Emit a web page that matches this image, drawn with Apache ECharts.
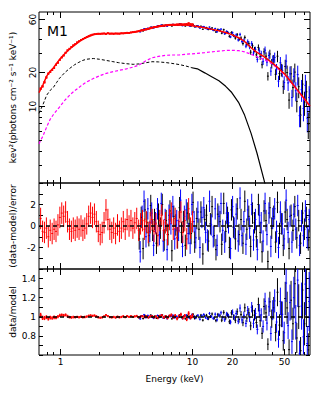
<!DOCTYPE html>
<html><head><meta charset="utf-8">
<script src="https://cdn.jsdelivr.net/npm/echarts@6/dist/echarts.min.js"></script>
<style>html,body{margin:0;padding:0;background:#fff}#c{width:319px;height:399px}</style>
</head><body><div id="c"></div>
<script>
const FONT = 'DejaVu Sans';
const xMin = 0.7, xMax = 78;
const yTopMin = 2.05, yTopMax = 69.3;

// tick values / labels
const xMajor = [1, 10, 20, 50];
const xMajorLabels = ['1', '10', '20', '50'];
const xMinor = [0.8, 0.9, 2, 3, 4, 5, 6, 7, 8, 9, 30, 40, 60, 70];
const yTopMajor = [10, 20, 60];
const yTopMajorLabels = ['10', '20', '60'];
const yTopMinor = [3, 4, 5, 6, 7, 8, 9, 30, 40, 50];
const resLabels = ['-2', '0', '2'];
const ratLabels = ['0.8', '1', '1.2', '1.4'];

// model curves
const mE = [0.7,0.75,0.8,0.85,0.9,0.95,1.0,1.1,1.2,1.3,1.4,1.5,1.6,1.8,2.0,2.2,2.5,2.8,3.2,3.6,4.0,4.5,5.0,5.6,6.3,7.0,8.0,9.0,10,11,12.5,14,16,18,20,22.5,25,28,31,35,40,45,50,56,63,70,78];
const mTot = [13.2,15.5,18.5,20.5,22.0,24.0,26.0,29.5,32.5,35.0,37.5,39.5,41.0,43.5,44.3,44.5,44.5,44.6,45.0,45.6,46.8,48.5,50.3,51.6,52.6,53.0,53.3,53.0,52.3,51.5,50.0,48.7,47.2,45.5,43.5,40.8,37.8,33.2,30.2,27.6,24.6,21.8,19.4,16.5,13.8,11.8,10.0];
const mMag = [4.6,5.4,6.5,7.6,8.4,9.1,9.8,11.3,12.6,13.7,14.6,15.6,16.4,17.6,18.6,19.4,20.2,20.8,21.5,22.3,23.3,25.4,27.0,27.8,28.4,28.6,28.6,29.0,29.3,29.6,30.0,30.5,31.0,31.4,31.5,31.3,30.5,29.0,27.6,26.0,24.0,21.4,19.1,16.3,13.6,11.6,9.9];
const bdE = [0.7,0.75,0.8,0.85,0.9,0.95,1.0,1.1,1.2,1.3,1.4,1.5,1.6,1.8,2.0,2.2,2.5,2.8,3.2,3.6,4.0,4.5,5.0,5.6,6.3,7.0,8.0,9.0,10];
const bdV = [8.6,10.3,12.5,13.8,14.7,16.2,17.7,20.0,21.8,23.4,24.6,25.6,26.2,26.6,26.2,25.7,25.0,24.4,23.9,23.6,23.8,24.4,24.9,24.8,24.5,24.1,23.5,22.8,22.0];
const bsE = [10,11,12.5,14,16,18,20,22.5,25,28,31,35,38,42];
const bsV = [22.0,21.5,19.8,18.4,16.8,15.0,13.2,10.8,8.3,5.7,3.8,2.2,1.5,0.9];

// red instrument data
const rE = [0.72,0.745,0.77,0.796,0.823,0.851,0.88,0.91,0.941,0.973,1.006,1.04,1.075,1.112,1.15,1.189,1.229,1.271,1.314,1.359,1.405,1.453,1.502,1.553,1.606,1.661,1.717,1.776,1.836,1.898,1.963,2.03,2.099,2.17,2.244,2.32,2.399,2.481,2.565,2.652,2.742,2.836,2.932,3.032,3.135,3.241,3.352,3.465,3.583,3.705,3.831,3.961,4.096,4.235,4.379,4.528,4.682,4.841,5.006,5.176,5.352,5.534,5.722,5.917,6.118,6.326,6.541,6.763,6.993,7.231,7.477,7.731,7.994,8.266,8.547,8.838,9.138,9.449,9.77,10.1];
const rF = [14.3,15.0,16.3,18.0,19.5,20.2,21.0,21.9,23.4,24.4,25.9,27.2,28.3,30.0,31.5,32.5,33.7,34.9,35.8,37.1,38.0,38.9,39.7,40.6,41.4,42.2,42.9,43.5,43.9,44.1,44.3,44.2,44.4,44.5,44.1,44.8,44.3,44.4,44.2,44.5,44.4,44.3,44.7,44.6,44.9,45.1,45.0,45.5,45.8,46.0,46.3,46.7,47.2,47.6,48.0,48.4,48.9,49.5,50.0,50.6,50.9,51.3,51.8,52.0,52.4,52.6,52.9,53.1,53.2,53.4,53.3,53.6,53.5,53.8,53.6,53.7,53.9,54.8,53.8,53.6];
const rErr = [.024,.023,.022,.021,.02,.02,.019,.019,.018,.017,.017,.016,.016,.015,.015,.014,.014,.014,.013,.013,.013,.013,.013,.013,.012,.012,.012,.012,.012,.012,.012,.012,.012,.012,.012,.012,.012,.012,.012,.012,.012,.012,.012,.012,.012,.012,.012,.012,.012,.012,.012,.012,.012,.012,.012,.012,.012,.012,.012,.012,.013,.013,.013,.014,.014,.014,.015,.015,.016,.016,.017,.017,.018,.018,.019,.02,.021,.022,.023,.024];
const rRes = [0.7,-0.5,-0.6,-0.2,-1.0,-0.4,-0.7,-0.3,-0.5,0.1,0.8,1.2,0.9,1.3,0.4,-0.3,-0.5,-0.2,-0.4,-0.1,-0.3,0.0,-0.4,-0.2,0.2,0.9,1.2,0.8,1.1,0.4,-0.5,-0.8,-0.6,0.3,1.5,0.6,-0.3,-0.6,-0.2,-0.7,0.1,-0.5,-0.2,0.4,-0.3,0.6,0.0,0.5,-0.2,0.3,0.7,-0.4,0.2,0.5,-0.3,0.4,-0.6,0.3,0.6,-0.5,0.2,-0.9,0.5,1.0,-0.4,0.3,-0.8,0.6,1.2,-0.3,0.7,-1.1,0.4,1.3,-0.6,0.5,-1.2,1.6,-0.2,0.4];
const rRat = [1.017,.989,.987,.996,.980,.992,.987,.994,.991,1.002,1.014,1.019,1.014,1.020,1.006,.996,.993,.997,.995,.999,.996,1.000,.995,.997,1.002,1.011,1.014,1.010,1.013,1.005,.994,.990,.993,1.004,1.018,1.007,.996,.993,.998,.992,1.001,.994,.998,1.005,.996,1.007,1.000,1.006,.998,1.004,1.008,.995,1.002,1.006,.996,1.005,.993,1.004,1.007,.994,1.003,.988,1.007,1.014,.994,1.004,.988,1.009,1.019,.995,1.012,.981,1.007,1.023,.989,1.010,.975,1.035,.995,1.010];

// black instrument data
const bE = [4.00,4.14,4.28,4.42,4.57,4.73,4.89,5.05,5.22,5.40,5.59,5.78,5.97,6.18,6.39,6.60,6.83,7.06,7.30,7.55,7.80,8.07,8.34,8.63,8.92,9.22,9.54,9.86,10.2,10.5,10.9,11.3,11.7,12.1,12.5,12.9,13.3,13.8,14.2,14.7,15.2,15.7,16.3,16.8,17.4,18.0,18.6,19.2,19.9,20.6,21.3,22.0,22.7,23.5,24.3,25.1,26.0,26.9,27.8,28.7,29.7,30.7,31.8,32.8,33.9,35.1,36.3,37.5,38.8,40.1,41.5,42.9,44.3,45.9,47.4,49.0,50.7,52.4,54.2,56.1,58.0,59.9,62.0,64.1,66.2,68.5,70.8,73.2,75.7,78.0];
const bF = [46.3,47.6,46.9,48.9,48.9,48.9,50.7,50.2,51.1,50.5,52.1,51.8,53.0,51.8,52.9,52.4,53.6,51.9,53.5,53.3,52.6,54.2,52.9,53.3,51.9,53.6,52.8,52.0,53.5,51.0,52.0,51.0,51.7,48.6,50.4,50.3,48.3,49.0,49.9,47.5,45.9,48.4,47.3,44.8,48.1,45.0,45.8,42.0,45.4,42.7,40.5,43.5,39.5,40.5,36.2,41.1,35.7,36.3,30.3,34.6,32.0,28.7,33.4,27.8,23.4,30.5,27.9,18.5,29.2,24.0,25.9,19.2,27.9,19.5,21.1,14.9,22.6,19.9,11.3,19.4,14.6,20.1,11.0,14.9,8.3,15.7,10.8,13.4,6.9,11.1];
const bErr = [.009,.009,.009,.009,.009,.009,.009,.009,.009,.009,.009,.009,.009,.009,.009,.009,.009,.009,.009,.009,.010,.010,.010,.010,.011,.011,.011,.011,.012,.012,.012,.013,.013,.014,.014,.015,.015,.016,.016,.017,.018,.019,.020,.021,.022,.023,.024,.026,.027,.029,.031,.033,.035,.037,.039,.041,.044,.047,.050,.053,.056,.060,.064,.068,.072,.077,.082,.087,.092,.098,.104,.110,.117,.124,.131,.139,.147,.155,.164,.173,.182,.192,.202,.212,.222,.233,.244,.255,.266,.277];
const bRes = [-1.2,0.8,-2.1,1.5,0.3,-0.9,1.9,-0.4,0.6,-1.6,1.1,-0.2,2.0,-1.3,0.5,-0.8,1.4,-2.3,0.9,0.1,-1.1,1.7,-0.6,0.4,-1.8,1.2,0.2,-0.7,2.2,-1.5,0.7,-0.3,1.3,-2.6,0.6,1.0,-1.4,0.2,1.8,-0.9,-2.2,1.1,0.4,-1.7,2.1,-0.5,0.8,-2.0,1.5,-0.1,-1.2,1.6,-0.8,0.6,-1.6,2.3,-0.3,0.9,-1.9,1.2,0.3,-1.0,2.0,-0.6,-2.4,1.4,0.5,-3.3,1.7,-0.2,0.9,-1.5,2.2,-0.7,0.2,-1.8,1.3,0.6,-2.1,1.0,-0.4,1.8,-1.1,0.5,-1.6,1.2,-0.3,0.8,-1.3,0.4];
const bRat = [.989,1.007,.981,1.014,1.003,.992,1.017,.996,1.005,.986,1.010,.998,1.018,.988,1.005,.993,1.013,.979,1.008,1.001,.989,1.017,.994,1.004,.980,1.013,1.002,.992,1.026,.982,1.008,.996,1.017,.964,1.008,1.015,.979,1.003,1.029,.985,.960,1.021,1.008,.964,1.046,.989,1.019,.948,1.041,.997,.963,1.053,.972,1.022,.938,1.094,.987,1.042,.905,1.064,1.017,.940,1.128,.959,.827,1.108,1.041,.713,1.156,.980,1.094,.835,1.257,.913,1.026,.750,1.191,1.093,.656,1.173,.927,1.346,.778,1.106,.645,1.280,.927,1.204,.654,1.111];

// blue instrument data
const uE = [4.07,4.21,4.35,4.50,4.65,4.81,4.97,5.14,5.31,5.50,5.68,5.87,6.08,6.28,6.50,6.71,6.94,7.18,7.42,7.68,7.94,8.21,8.49,8.77,9.07,9.38,9.70,10.0,10.4,10.7,11.1,11.5,11.9,12.3,12.7,13.1,13.6,14.0,14.5,15.0,15.5,16.0,16.6,17.1,17.7,18.3,18.9,19.6,20.3,20.9,21.6,22.4,23.1,23.9,24.7,25.6,26.4,27.3,28.3,29.2,30.2,31.2,32.3,33.4,34.5,35.7,36.9,38.2,39.5,40.8,42.2,43.6,45.1,46.6,48.2,49.8,51.5,53.3,55.1,57.0,58.9,60.9,63.0,65.1,67.4,69.6,72.0,74.4,76.9];
const uF = [46.0,47.9,49.0,48.1,49.7,49.4,50.8,49.8,51.2,52.1,51.3,53.0,51.6,52.8,51.6,53.3,53.1,53.8,52.5,53.5,53.0,54.6,52.2,53.6,53.9,52.4,51.6,53.5,52.3,51.0,52.2,49.7,51.1,51.4,49.4,48.6,50.8,48.8,47.5,49.3,46.1,48.0,48.7,45.8,44.2,46.5,44.9,41.5,45.2,42.2,43.2,39.0,43.7,37.8,38.7,34.3,37.8,33.8,36.3,29.8,32.1,26.1,31.2,29.2,25.1,31.6,24.7,28.3,20.5,25.8,27.2,21.4,16.7,24.4,20.8,16.2,25.2,16.1,19.4,11.9,18.4,13.7,19.1,8.2,14.0,9.5,15.3,7.8,11.9];
const uErr = [.009,.009,.009,.009,.009,.009,.009,.009,.009,.009,.009,.009,.009,.009,.009,.009,.009,.009,.009,.009,.010,.010,.010,.010,.011,.011,.011,.011,.012,.012,.012,.013,.013,.014,.014,.015,.015,.016,.016,.017,.018,.019,.020,.021,.022,.023,.024,.026,.027,.029,.031,.033,.035,.037,.039,.041,.044,.047,.050,.053,.056,.060,.064,.068,.072,.077,.082,.087,.092,.098,.104,.110,.117,.124,.131,.139,.147,.155,.164,.173,.182,.192,.202,.212,.222,.233,.244,.255,.266];
const uRes = [-2.4,0.9,2.3,-1.0,1.6,-0.5,1.2,-1.8,0.3,1.6,-0.8,2.1,-1.4,0.6,-2.2,1.0,0.2,1.8,-1.2,0.5,-0.4,2.4,-1.9,0.9,1.5,-0.7,-1.6,2.0,0.4,-1.1,1.3,-2.0,0.8,1.7,-0.6,-1.3,2.3,0.1,-1.0,1.6,-1.8,0.9,2.1,-0.4,-1.5,1.2,0.3,-2.1,1.8,-0.2,1.1,-1.4,2.6,-0.9,0.4,-1.7,1.5,-0.2,2.0,-1.3,0.6,-2.2,1.0,0.3,-1.4,2.1,-0.8,1.2,-1.9,0.7,1.6,-0.5,-2.0,1.3,0.2,-1.2,2.4,-0.6,0.9,-1.5,1.1,-0.3,1.9,-1.8,0.5,-0.9,1.4,-1.1,0.6];
const uRat = [.978,1.008,1.021,.991,1.014,.996,1.011,.984,1.003,1.014,.993,1.019,.987,1.005,.980,1.009,1.002,1.016,.989,1.005,.996,1.024,.981,1.009,1.017,.992,.982,1.022,1.005,.987,1.016,.974,1.010,1.024,.992,.981,1.035,1.002,.984,1.027,.968,1.017,1.042,.992,.967,1.028,1.007,.945,1.049,.994,1.034,.954,1.091,.967,1.016,.930,1.066,.991,1.100,.931,1.034,.868,1.064,1.020,.899,1.162,.934,1.104,.825,1.069,1.166,.945,.766,1.161,1.026,.833,1.353,.907,1.148,.740,1.200,.942,1.384,.618,1.111,.790,1.342,.720,1.160];

const RED = '#ff0000', BLUE = '#0000ff', BLACK = '#000000', MAG = '#ff00ff';

function binCross(E, Y, LO, HI, color, width) {
  return function (params, api) {
    const i = params.dataIndex, n = E.length;
    const p = api.coord([E[i], Y[i]]);
    const xl = i > 0 ? api.coord([E[i - 1], Y[i]])[0] : null;
    const xr = i < n - 1 ? api.coord([E[i + 1], Y[i]])[0] : null;
    const hl = xl !== null ? (p[0] - xl) / 2 : (xr - p[0]) / 2;
    const hr = xr !== null ? (xr - p[0]) / 2 : (p[0] - xl) / 2;
    const yt = api.coord([E[i], HI[i]])[1];
    const yb = api.coord([E[i], LO[i]])[1];
    const st = {stroke: color, lineWidth: width};
    return {type: 'group', children: [
      {type: 'line', shape: {x1: p[0] - hl, y1: p[1], x2: p[0] + hr, y2: p[1]}, style: st},
      {type: 'line', shape: {x1: p[0], y1: yt, x2: p[0], y2: yb}, style: st}
    ]};
  };
}
function errSeries(gi, yi, E, Y, LO, HI, color, width, z) {
  return {type: 'custom', xAxisIndex: gi, yAxisIndex: yi, clip: true, silent: true, z: z,
    data: E.map((e, i) => [e, Y[i]]), renderItem: binCross(E, Y, LO, HI, color, width)};
}
const lo = (Y, R) => Y.map((y, i) => y * (1 - R[i]));
const hi = (Y, R) => Y.map((y, i) => y * (1 + R[i]));
const rlo = (Y) => Y.map(y => y - 1);
const rhi = (Y) => Y.map(y => y + 1);

const txt = (s, x, y, extra) => Object.assign({type: 'text', x: x, y: y,
  style: {text: s, fill: '#000', fontSize: 9, fontFamily: FONT, align: 'center', verticalAlign: 'middle',
          textAlign: 'center', textVerticalAlign: 'middle'}}, extra || {});

function xTicks(gi, yi, yRef, withLabels) {
  const vals = xMajor.concat(xMinor);
  return {type: 'custom', xAxisIndex: gi, yAxisIndex: yi, clip: false, silent: true, z: 10,
    data: vals.map(v => [v, yRef]),
    renderItem(params, api) {
      const i = params.dataIndex, cs = params.coordSys;
      const x = Math.round(api.coord([vals[i], yRef])[0]) + 0.5;
      const major = i < xMajor.length, L = major ? 6 : 3;
      const y0 = cs.y, y1 = cs.y + cs.height;
      const st = {stroke: '#000', lineWidth: 1};
      const ch = [
        {type: 'line', shape: {x1: x, y1: y0, x2: x, y2: y0 + L}, style: st},
        {type: 'line', shape: {x1: x, y1: y1, x2: x, y2: y1 - L}, style: st}
      ];
      if (withLabels && major) ch.push(txt(xMajorLabels[i], x, y1 + 7));
      return {type: 'group', children: ch};
    }};
}
function yTopTicks() {
  const vals = yTopMajor.concat(yTopMinor);
  return {type: 'custom', xAxisIndex: 0, yAxisIndex: 0, clip: false, silent: true, z: 10,
    data: vals.map(v => [1, v]),
    renderItem(params, api) {
      const i = params.dataIndex, cs = params.coordSys;
      const y = Math.round(api.coord([1, vals[i]])[1]) + 0.5;
      const major = i < yTopMajor.length, L = major ? 6 : 3;
      const x0 = cs.x, x1 = cs.x + cs.width;
      const st = {stroke: '#000', lineWidth: 1};
      const ch = [
        {type: 'line', shape: {x1: x0, y1: y, x2: x0 + L, y2: y}, style: st},
        {type: 'line', shape: {x1: x1, y1: y, x2: x1 - L, y2: y}, style: st}
      ];
      if (major) ch.push(txt(yTopMajorLabels[i], x0 - 6, y, {rotation: Math.PI / 2}));
      return {type: 'group', children: ch};
    }};
}

const hiddenAx = {axisLine: {show: false}, axisTick: {show: false}, axisLabel: {show: false}, splitLine: {show: false}};
const nameStyle = {fontSize: 9, fontFamily: FONT, color: '#000'};
const xAxes = [0, 1, 2].map(i => Object.assign({type: 'log', logBase: 10, gridIndex: i, min: xMin, max: xMax}, hiddenAx,
  i === 2 ? {name: 'Energy (keV)', nameLocation: 'middle', nameGap: 19, nameTextStyle: nameStyle} : {}));

function valAxis(gi, pos, mn, mx, iv, fmt, name) {
  const ax = {type: 'value', gridIndex: gi, position: pos, min: mn, max: mx, interval: iv,
    axisLine: {show: false}, splitLine: {show: false},
    axisTick: {show: true, inside: true, length: 4, lineStyle: {color: '#000', width: 1}},
    axisLabel: {show: !!fmt, formatter: fmt, margin: 3, fontSize: 9, fontFamily: FONT, color: '#000'}};
  if (name) Object.assign(ax, {name: name, nameLocation: 'middle', nameRotate: 90, nameGap: 22, nameTextStyle: nameStyle, nameMoveOverlap: false});
  return ax;
}
const resFmt = v => { const s = String(Math.round(v)); return Math.abs(v - Math.round(v)) < 1e-6 && resLabels.indexOf(s) >= 0 ? s : ''; };
const ratFmt = v => { const s = String(Math.round(v * 10) / 10); return ratLabels.indexOf(s) >= 0 ? s : ''; };

const yAxes = [
  Object.assign({type: 'log', logBase: 10, gridIndex: 0, min: yTopMin, max: yTopMax,
    name: 'kev²(photons cm⁻² s⁻¹ keV⁻¹)', nameLocation: 'middle', nameRotate: 90, nameGap: 22, nameTextStyle: nameStyle, nameMoveOverlap: false}, hiddenAx),
  valAxis(1, 'left', -4, 4, 1, resFmt, '(data-model)/error'),
  valAxis(1, 'right', -4, 4, 1, null, null),
  valAxis(2, 'left', 0.6, 1.5, 0.1, ratFmt, 'data/model'),
  valAxis(2, 'right', 0.6, 1.5, 0.1, null, null)
];

const lineS = (E, V, color, w, dash, z) => ({type: 'line', xAxisIndex: 0, yAxisIndex: 0, silent: true, z: z,
  data: E.map((e, i) => [e, V[i]]), symbol: 'none', showSymbol: false,
  lineStyle: {color: color, width: w, type: dash || 'solid'}});
const refLine = (gi, yi, v) => ({type: 'line', xAxisIndex: gi, yAxisIndex: yi, data: [], silent: true, z: 8,
  markLine: {silent: true, symbol: 'none', label: {show: false}, animation: false,
    lineStyle: {color: '#000', width: 1.5, type: [4, 3]}, data: [{yAxis: v}]}});

const series = [
  errSeries(0, 0, bE, bF, lo(bF, bErr), hi(bF, bErr), BLACK, 1, 2),
  errSeries(0, 0, uE, uF, lo(uF, uErr), hi(uF, uErr), BLUE, 1, 3),
  errSeries(0, 0, rE, rF, lo(rF, rErr), hi(rF, rErr), RED, 2, 4),
  lineS(bdE, bdV, BLACK, 1, [3, 2], 5),
  lineS(bsE, bsV, BLACK, 1.2, 'solid', 5),
  lineS(mE, mMag, MAG, 1.2, [3, 2], 5),
  lineS(mE, mTot, RED, 1.5, 'solid', 6),
  errSeries(1, 1, bE, bRes, rlo(bRes), rhi(bRes), BLACK, 1, 2),
  errSeries(1, 1, uE, uRes, rlo(uRes), rhi(uRes), BLUE, 1, 3),
  errSeries(1, 1, rE, rRes, rlo(rRes), rhi(rRes), RED, 1, 4),
  refLine(1, 1, 0),
  errSeries(2, 3, bE, bRat, lo(bRat, bErr), hi(bRat, bErr), BLACK, 1, 2),
  errSeries(2, 3, uE, uRat, lo(uRat, uErr), hi(uRat, uErr), BLUE, 1, 3),
  errSeries(2, 3, rE, rRat, lo(rRat, rErr), hi(rRat, rErr), RED, 1.5, 4),
  refLine(2, 3, 1),
  xTicks(0, 0, 10, false),
  xTicks(1, 1, 0, false),
  xTicks(2, 3, 1, true),
  yTopTicks()
];

const gridBase = {left: 35, width: 275, show: true, borderColor: '#000', borderWidth: 1, backgroundColor: 'transparent'};
const chart = echarts.init(document.getElementById('c'), null, {renderer: 'svg', width: 319, height: 399});
chart.setOption({
  animation: false,
  backgroundColor: '#fff',
  grid: [
    Object.assign({top: 12, height: 171}, gridBase),
    Object.assign({top: 183, height: 86}, gridBase),
    Object.assign({top: 269, height: 86}, gridBase)
  ],
  xAxis: xAxes,
  yAxis: yAxes,
  graphic: [{type: 'text', left: 47, top: 24, style: {text: 'M1', fontSize: 14, fontFamily: FONT, fill: '#000'}}],
  series: series
});
</script></body></html>
